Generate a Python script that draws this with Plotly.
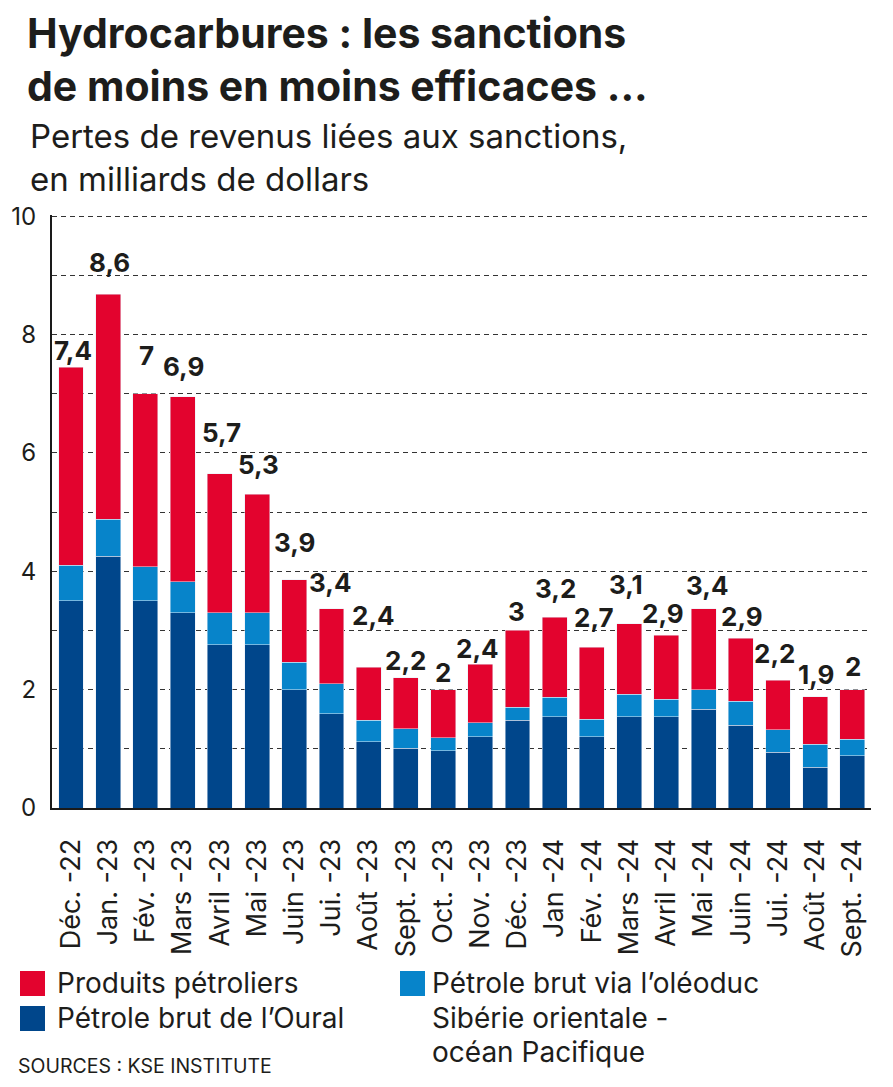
import plotly.graph_objects as go

months = ["Déc. -22", "Jan. -23", "Fév. -23", "Mars -23", "Avril -23", "Mai -23",
          "Juin -23", "Jui. -23", "Août -23", "Sept. -23", "Oct. -23", "Nov. -23",
          "Déc. -23", "Jan -24", "Fév. -24", "Mars -24", "Avril -24", "Mai -24",
          "Juin -24", "Jui. -24", "Août -24", "Sept. -24"]
oural = [3.5, 4.25, 3.5, 3.3, 2.76, 2.76, 2.0, 1.59, 1.12, 1.01, 0.97, 1.2,
         1.48, 1.54, 1.2, 1.54, 1.54, 1.67, 1.4, 0.94, 0.69, 0.88]
espo = [0.6, 0.63, 0.58, 0.52, 0.54, 0.54, 0.46, 0.51, 0.36, 0.33, 0.22, 0.24,
        0.22, 0.33, 0.3, 0.38, 0.3, 0.33, 0.4, 0.38, 0.39, 0.28]
produits = [3.35, 3.8, 2.92, 3.13, 2.35, 2.0, 1.4, 1.27, 0.9, 0.86, 0.81, 0.99,
            1.3, 1.35, 1.22, 1.19, 1.08, 1.37, 1.07, 0.84, 0.8, 0.84]
totals = [7.4, 8.6, 7, 6.9, 5.7, 5.3, 3.9, 3.4, 2.4, 2.2, 2, 2.4,
          3, 3.2, 2.7, 3.1, 2.9, 3.4, 2.9, 2.2, 1.9, 2]
y_ticks = [0, 2, 4, 6, 8, 10]

# label placement tweaks (pixels)
lift = [17, 32, 38, 30, 41, 30, 37, 26, 52, 17, 17, 16, 19, 29, 30, 39, 22, 23, 22, 27, 22, 23]
nudge = [2, 1, 1, 1, 2, 1, 0, -1, 5, 0, 0, -3, -1, 1, 2, -3, -3, 4, 1, -3, 1, 1]

RED = "#E3032E"
LIGHT = "#0784CA"
NAVY = "#00468B"
INK = "#1d1d1b"
FONT = "Inter, Lato, sans-serif"

fig = go.Figure()
fig.add_bar(x=months, y=oural, marker_color=NAVY, name="Pétrole brut de l’Oural")
fig.add_bar(x=months, y=espo, marker_color=LIGHT,
            name="Pétrole brut via l’oléoduc Sibérie orientale - océan Pacifique")
fig.add_bar(x=months, y=produits, marker_color=RED, name="Produits pétroliers")

# page body has an 8px margin; figure is sized to fit inside the window
OFF = 8
W, H = 893 - 2 * OFF, 1087 - 2 * OFF
plot_left, plot_right, plot_top, plot_bottom = 52, 871, 215, 808  # page pixels
L = plot_left - OFF
R = W - (plot_right - OFF)
T = plot_top - OFF
B = H - (plot_bottom - OFF)
PW, PH = W - L - R, H - T - B

def px(x):
    return (x - OFF - L) / PW

def py(y):
    return (H - B - (y - OFF)) / PH

annotations = []
for i, m in enumerate(months):
    top = oural[i] + espo[i] + produits[i]
    txt = f"{totals[i]:g}".replace(".", ",")
    annotations.append(dict(x=m, y=top, xref="x", yref="y", text=f"<b>{txt}</b>",
                            showarrow=False, yanchor="middle", yshift=lift[i], xshift=nudge[i],
                            font=dict(family=FONT, size=26, color=INK)))

# title and subtitle
annotations += [
    dict(x=px(25), y=py(60), xref="paper", yref="paper", xanchor="left", yanchor="middle",
         align="left",
         text="<b>Hydrocarbures : les sanctions<br>de moins en moins efficaces ...</b>",
         showarrow=False, font=dict(family=FONT, size=41, color=INK)),
    dict(x=px(28), y=py(158), xref="paper", yref="paper", xanchor="left", yanchor="middle",
         align="left",
         text="Pertes de revenus liées aux sanctions,<br>en milliards de dollars",
         showarrow=False, font=dict(family=FONT, size=33, color=INK)),
]

# manual legend
leg_font = dict(family=FONT, size=28, color=INK)
legend_items = [
    (20, 971, RED, 55, ["Produits pétroliers"]),
    (20, 1006, NAVY, 55, ["Pétrole brut de l’Oural"]),
    (400, 971, LIGHT, 430, ["Pétrole brut via l’oléoduc", "Sibérie orientale -", "océan Pacifique"]),
]
shapes = []
for sx, sy, col, tx, lines in legend_items:
    shapes.append(dict(type="rect", xref="paper", yref="paper",
                       x0=px(sx), x1=px(sx + 25), y0=py(sy + 25), y1=py(sy),
                       fillcolor=col, line=dict(width=0)))
    for k, line in enumerate(lines):
        annotations.append(dict(x=px(tx), y=py(sy + 12 + 34.5 * k), xref="paper", yref="paper",
                                xanchor="left", yanchor="middle", text=line, showarrow=False,
                                font=leg_font))

annotations.append(dict(x=px(16), y=py(1066), xref="paper", yref="paper", xanchor="left",
                        yanchor="middle", text="SOURCES : KSE INSTITUTE", showarrow=False,
                        font=dict(family=FONT, size=19.5, color=INK)))

fig.update_layout(
    barmode="stack",
    bargap=0.33,
    width=W, height=H,
    margin=dict(l=L, r=R, t=T, b=B, autoexpand=False),
    paper_bgcolor="white",
    plot_bgcolor="white",
    showlegend=False,
    annotations=annotations,
    shapes=shapes,
    font=dict(family=FONT, color=INK),
)
fig.update_xaxes(
    automargin=False,
    tickangle=-90, tickfont=dict(family=FONT, size=27, color=INK),
    showline=True, linecolor="#1a1a1a", linewidth=2, ticks="", ticklabelstandoff=18,
    showgrid=False,
)
fig.update_yaxes(
    automargin=False,
    range=[0, 10.02], tickvals=list(range(11)),
    ticktext=[str(v) if v in y_ticks else "" for v in range(11)],
    tickfont=dict(family=FONT, size=24, color=INK),
    showline=True, linecolor="#1a1a1a", linewidth=2, ticks="", ticklabelstandoff=9,
    showgrid=True, gridcolor="#333333", gridwidth=1, griddash="5px,4px",
    zeroline=False,
)

fig.write_html("out.html")
